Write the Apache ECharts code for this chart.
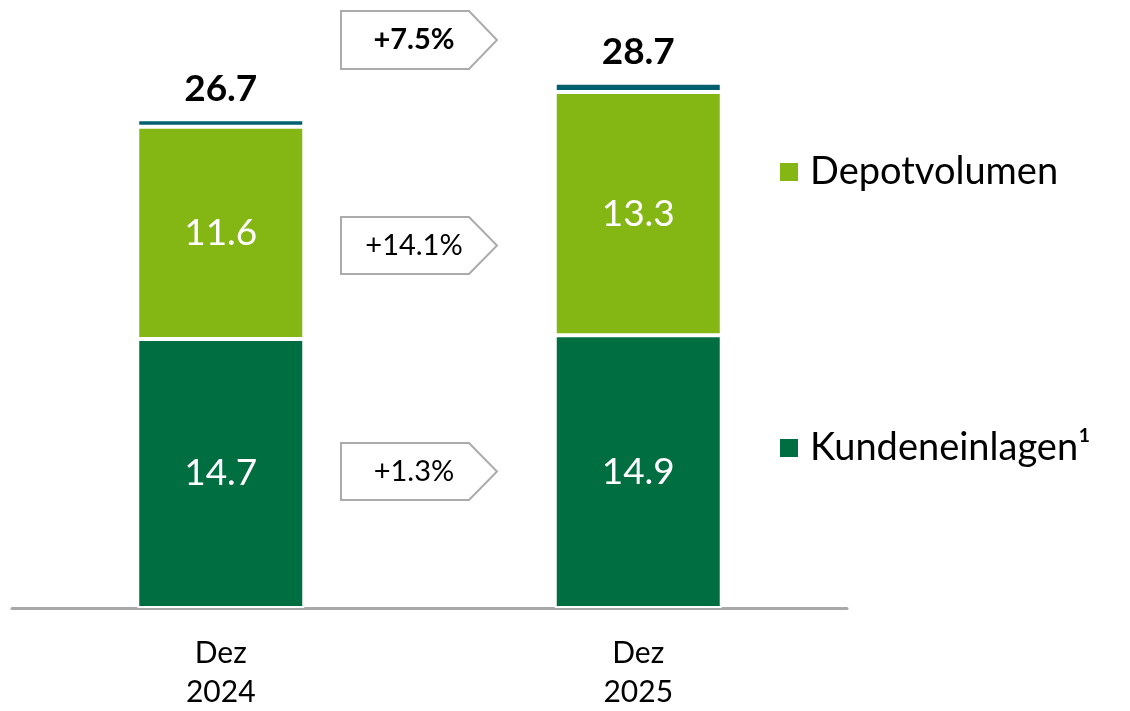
<!DOCTYPE html>
<html>
<head>
<meta charset="utf-8">
<script src="https://cdn.jsdelivr.net/npm/echarts@6/dist/echarts.min.js"></script>
<style>
  html, body { margin: 0; padding: 0; background: #fff; }
  #chart { width: 1130px; height: 711px; }
</style>
</head>
<body>
<div id="chart"></div>
<script>
// Daten
const categories = ['Dez\n2024', 'Dez\n2025']
const kundeneinlagen = [14.7, 14.9]
const depotvolumen = [11.6, 13.3]
const sonstige = [0.4, 0.5]
const totals = [26.7, 28.7]
const growth = ['+7.5%', '+14.1%', '+1.3%']

const FONT = 'Lato, "Open Sans", sans-serif'

// Pfeilbox als Polygon mit Text
function arrowBox(top, height, text, bold) {
    const w = 128, tip = 28
    return {
        type: 'group',
        left: 340,
        top: top,
        children: [
            {
                type: 'polygon',
                shape: { points: [[0, 0], [w, 0], [w + tip, height / 2], [w, height], [0, height]] },
                style: { fill: '#fff', stroke: '#ababab', lineWidth: 2 }
            },
            {
                type: 'text',
                x: 73,
                y: height / 2,
                style: {
                    text: text,
                    fill: '#000',
                    font: (bold ? 'bold ' : 'normal ') + '29px ' + FONT,
                    textAlign: 'center',
                    textVerticalAlign: 'middle'
                }
            }
        ]
    }
}

const myChart = echarts.init(document.getElementById('chart'))

const segLabel = {
    show: true,
    position: 'inside',
    color: '#fff',
    fontSize: 37,
    formatter: p => p.value.toFixed(1)
}

const option = {
    animation: false,
    textStyle: { fontFamily: FONT },
    grid: { left: 12, right: 283, top: 26, bottom: 103, outerBoundsMode: 'none', containLabel: false },
    legend: {
        data: ['Depotvolumen', 'Kundeneinlagen¹'],
        orient: 'vertical',
        left: 773,
        top: 148,
        itemGap: 238,
        icon: 'rect',
        itemWidth: 20,
        itemHeight: 20,
        selectedMode: false,
        textStyle: { fontSize: 38, color: '#000', padding: [0, 0, 0, 6] }
    },
    xAxis: {
        type: 'category',
        data: categories,
        axisLine: { lineStyle: { color: '#a8a8a8', width: 3 } },
        axisTick: { show: false },
        axisLabel: { fontSize: 30, color: '#000', lineHeight: 39, margin: 26 }
    },
    yAxis: {
        type: 'value',
        min: 0,
        max: 31.8,
        show: false,
        splitLine: { show: false }
    },
    series: [
        {
            name: 'Kundeneinlagen¹',
            type: 'bar',
            stack: 'total',
            barWidth: 167,
            data: kundeneinlagen,
            itemStyle: { color: '#006e41', borderColor: '#fff', borderWidth: 2 },
            label: segLabel
        },
        {
            name: 'Depotvolumen',
            type: 'bar',
            stack: 'total',
            data: depotvolumen,
            itemStyle: { color: '#84b614', borderColor: '#fff', borderWidth: 2 },
            label: segLabel
        },
        {
            name: 'Sonstige',
            type: 'bar',
            stack: 'total',
            data: sonstige,
            itemStyle: { color: '#00606f', borderColor: '#fff', borderWidth: 2 },
            label: {
                show: true,
                position: 'top',
                distance: 12,
                color: '#000',
                fontSize: 37,
                fontWeight: 'bold',
                formatter: p => totals[p.dataIndex].toFixed(1)
            }
        }
    ],
    graphic: [
        arrowBox(10, 58, growth[0], true),
        arrowBox(216, 57, growth[1], false),
        arrowBox(442, 57, growth[2], false)
    ]
}

myChart.setOption(option)
</script>
</body>
</html>
